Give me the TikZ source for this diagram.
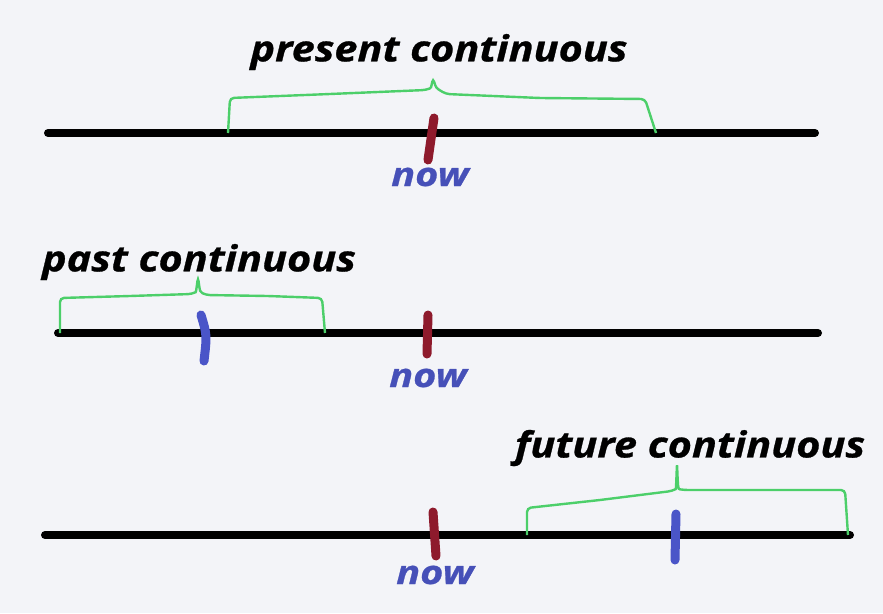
\documentclass[tikz,border=0pt]{standalone}
\usepackage{fontspec}
\setmainfont{Open Sans}
\newfontfamily\labelfont[FakeStretch=1.15,FakeBold=0.8]{Open Sans}
\newfontfamily\nowfont[FakeStretch=1.2,FakeBold=0.8]{Open Sans}
\definecolor{bg}{HTML}{F3F4F8}
\definecolor{brgreen}{HTML}{4CCF6A}
\definecolor{nowred}{HTML}{8E1A2C}
\definecolor{evblue}{HTML}{4A55C8}
\definecolor{nowtext}{HTML}{4650B8}
\tikzset{
  timeline/.style={line width=8pt, line cap=round, black},
  brace/.style={line width=2.4pt, brgreen, rounded corners=4pt},
  nowmark/.style={line width=9pt, line cap=round, nowred},
  evmark/.style={line width=9pt, line cap=round, evblue},
  title/.style={font=\labelfont\fontsize{36}{42}\selectfont\bfseries\itshape, black, inner sep=0pt},
  nowlabel/.style={font=\nowfont\fontsize{33}{38}\selectfont\bfseries\itshape, nowtext, inner sep=0pt}
}
\begin{document}
\begin{tikzpicture}[x=1pt,y=-1pt]
\fill[bg] (0,0) rectangle (883,613);
\useasboundingbox (0,0) rectangle (883,613);
% ---- present continuous
\coordinate (a1) at (48,133); \coordinate (b1) at (815,133);
\draw[timeline] (a1) -- (b1);
\draw[brace] (228,133) -- (230,98) -- (330,94) -- (426,90) .. controls (431,88) .. (433,78) .. controls (436,88) .. (446,94) -- (540,98) -- (645,99) -- (656,133);
\draw[nowmark] (434,118) -- (428,160);
\node[title] (t1) at (439,52) {present continuous};
\node[nowlabel] (n1) at (430,177) {now};
% ---- past continuous
\coordinate (a2) at (58,333); \coordinate (b2) at (818,333);
\draw[timeline] (a2) -- (b2);
\draw[brace] (60,333) -- (60,298) -- (130,296) -- (192,294) .. controls (196,292) .. (198,277) .. controls (200,292) .. (206,295) -- (268,296) -- (322,298) -- (325,333);
\draw[evmark] (201,315) .. controls (207,335) .. (204,361);
\draw[nowmark] (428,315) -- (427,354);
\node[title] (t2) at (199,262) {past continuous};
\node[nowlabel] (n2) at (428,378) {now};
% ---- future continuous
\coordinate (a3) at (45,535); \coordinate (b3) at (850,535);
\draw[timeline] (a3) -- (b3);
\draw[brace] (527,535) -- (527,508) -- (600,500) -- (672,491) .. controls (676,489) .. (677,463) .. controls (678,489) .. (684,490) -- (760,490) -- (845,490) -- (848,535);
\draw[evmark] (676,514) -- (675,560);
\draw[nowmark] (433,512) -- (436,556);
\node[title] (t3) at (690,448) {future continuous};
\node[nowlabel] (n3) at (435,575) {now};
\end{tikzpicture}
\end{document}
